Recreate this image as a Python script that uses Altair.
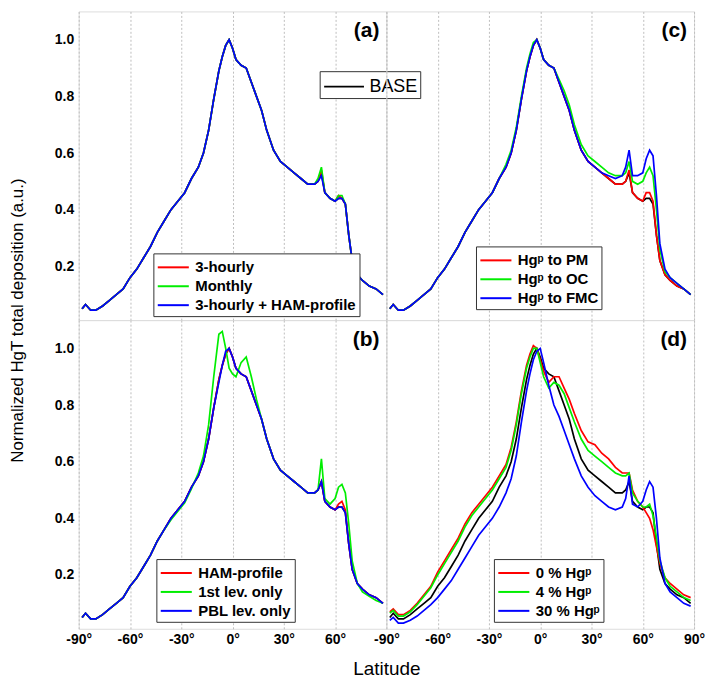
import altair as alt
import pandas as pd

# ---------------- data ----------------
LAT = [-88, -86, -83, -80, -76, -72, -68, -64, -60, -56,
       -52, -48, -44, -40, -36, -32, -28, -24, -20, -17,
       -14, -11, -8, -6, -4, -2, 0, 2, 5, 8,
       11, 14, 17, 20, 24, 28, 32, 36, 40, 44,
       48, 50, 52, 54, 57, 60, 62, 64, 66, 68,
       70, 73, 76, 80, 84, 88]

BASE = [0.050, 0.065, 0.045, 0.045, 0.060, 0.080, 0.100, 0.120, 0.160, 0.190,
        0.230, 0.270, 0.320, 0.360, 0.400, 0.430, 0.460, 0.510, 0.550, 0.600,
        0.680, 0.790, 0.890, 0.940, 0.980, 1.000, 0.970, 0.930, 0.910, 0.900,
        0.850, 0.800, 0.750, 0.680, 0.610, 0.570, 0.550, 0.530, 0.510, 0.490,
        0.490, 0.500, 0.530, 0.460, 0.440, 0.430, 0.440, 0.440, 0.420, 0.310,
        0.220, 0.170, 0.150, 0.130, 0.120, 0.100]

# panel (a)
A_3H = [0.050, 0.065, 0.045, 0.045, 0.060, 0.080, 0.100, 0.120, 0.160, 0.190,
        0.230, 0.270, 0.320, 0.360, 0.400, 0.430, 0.460, 0.510, 0.550, 0.600,
        0.680, 0.790, 0.890, 0.940, 0.980, 1.000, 0.970, 0.930, 0.910, 0.900,
        0.850, 0.800, 0.750, 0.680, 0.610, 0.570, 0.550, 0.530, 0.510, 0.490,
        0.490, 0.500, 0.540, 0.460, 0.440, 0.430, 0.450, 0.440, 0.420, 0.310,
        0.220, 0.170, 0.150, 0.130, 0.120, 0.100]
A_MON = [0.050, 0.065, 0.045, 0.045, 0.060, 0.080, 0.100, 0.120, 0.160, 0.190,
         0.230, 0.270, 0.320, 0.360, 0.400, 0.430, 0.460, 0.510, 0.550, 0.600,
         0.680, 0.790, 0.890, 0.940, 0.980, 1.000, 0.970, 0.930, 0.910, 0.900,
         0.850, 0.800, 0.750, 0.680, 0.610, 0.570, 0.550, 0.530, 0.510, 0.490,
         0.490, 0.510, 0.550, 0.460, 0.440, 0.430, 0.450, 0.450, 0.420, 0.310,
         0.220, 0.170, 0.150, 0.130, 0.120, 0.100]
A_HAM = [0.050, 0.065, 0.045, 0.045, 0.060, 0.080, 0.100, 0.120, 0.160, 0.190,
         0.230, 0.270, 0.320, 0.360, 0.400, 0.430, 0.460, 0.510, 0.550, 0.600,
         0.680, 0.790, 0.890, 0.940, 0.980, 1.000, 0.970, 0.930, 0.910, 0.900,
         0.850, 0.800, 0.750, 0.680, 0.610, 0.570, 0.550, 0.530, 0.510, 0.490,
         0.490, 0.500, 0.520, 0.460, 0.440, 0.430, 0.440, 0.440, 0.420, 0.310,
         0.220, 0.170, 0.150, 0.130, 0.120, 0.100]

# panel (b)
B_HAM = [0.050, 0.065, 0.045, 0.045, 0.060, 0.080, 0.100, 0.120, 0.160, 0.190,
         0.230, 0.270, 0.320, 0.360, 0.400, 0.430, 0.460, 0.510, 0.550, 0.600,
         0.680, 0.790, 0.890, 0.940, 0.980, 1.000, 0.970, 0.930, 0.910, 0.900,
         0.850, 0.800, 0.750, 0.680, 0.610, 0.570, 0.550, 0.530, 0.510, 0.490,
         0.490, 0.500, 0.530, 0.460, 0.440, 0.430, 0.450, 0.460, 0.430, 0.310,
         0.220, 0.170, 0.150, 0.130, 0.120, 0.100]
B_1ST = [0.050, 0.065, 0.045, 0.045, 0.060, 0.080, 0.100, 0.120, 0.160, 0.190,
         0.230, 0.270, 0.320, 0.360, 0.395, 0.425, 0.455, 0.505, 0.560, 0.620,
         0.730, 0.900, 1.050, 1.060, 1.000, 0.930, 0.910, 0.900, 0.950, 0.970,
         0.900, 0.820, 0.750, 0.680, 0.610, 0.570, 0.550, 0.530, 0.510, 0.490,
         0.490, 0.500, 0.610, 0.470, 0.450, 0.470, 0.510, 0.520, 0.490, 0.380,
         0.250, 0.170, 0.140, 0.125, 0.110, 0.100]
B_PBL = [0.050, 0.065, 0.045, 0.045, 0.060, 0.080, 0.100, 0.120, 0.160, 0.190,
         0.230, 0.270, 0.320, 0.360, 0.400, 0.430, 0.460, 0.510, 0.550, 0.600,
         0.680, 0.790, 0.880, 0.940, 0.990, 1.000, 0.970, 0.930, 0.910, 0.900,
         0.850, 0.800, 0.750, 0.680, 0.610, 0.570, 0.550, 0.530, 0.510, 0.490,
         0.490, 0.500, 0.530, 0.460, 0.440, 0.430, 0.440, 0.440, 0.420, 0.310,
         0.220, 0.170, 0.150, 0.130, 0.120, 0.100]

# panel (c)
C_PM = [0.050, 0.065, 0.045, 0.045, 0.060, 0.080, 0.100, 0.120, 0.160, 0.190,
        0.230, 0.270, 0.320, 0.360, 0.400, 0.430, 0.460, 0.510, 0.550, 0.600,
        0.680, 0.790, 0.890, 0.940, 0.980, 1.000, 0.970, 0.930, 0.910, 0.900,
        0.850, 0.800, 0.750, 0.680, 0.610, 0.570, 0.550, 0.530, 0.510, 0.490,
        0.490, 0.500, 0.540, 0.460, 0.440, 0.430, 0.460, 0.460, 0.430, 0.310,
        0.220, 0.170, 0.150, 0.130, 0.120, 0.100]
C_OC = [0.050, 0.065, 0.045, 0.045, 0.060, 0.080, 0.100, 0.120, 0.160, 0.190,
        0.230, 0.270, 0.320, 0.360, 0.400, 0.430, 0.460, 0.510, 0.560, 0.610,
        0.690, 0.800, 0.900, 0.950, 0.990, 1.000, 0.970, 0.930, 0.910, 0.900,
        0.860, 0.820, 0.770, 0.700, 0.630, 0.590, 0.570, 0.550, 0.530, 0.520,
        0.520, 0.530, 0.570, 0.500, 0.490, 0.500, 0.530, 0.550, 0.520, 0.400,
        0.260, 0.180, 0.160, 0.140, 0.120, 0.100]
C_FMC = [0.050, 0.065, 0.045, 0.045, 0.060, 0.080, 0.100, 0.120, 0.160, 0.190,
         0.230, 0.270, 0.320, 0.360, 0.400, 0.430, 0.460, 0.510, 0.550, 0.600,
         0.680, 0.790, 0.890, 0.940, 0.980, 1.000, 0.970, 0.930, 0.910, 0.900,
         0.850, 0.800, 0.750, 0.680, 0.610, 0.570, 0.550, 0.530, 0.520, 0.510,
         0.520, 0.550, 0.610, 0.520, 0.520, 0.530, 0.580, 0.610, 0.590, 0.450,
         0.280, 0.190, 0.160, 0.140, 0.120, 0.100]

# panel (d)
D_0 = [0.070, 0.080, 0.060, 0.060, 0.075, 0.100, 0.130, 0.160, 0.210, 0.250,
       0.290, 0.330, 0.380, 0.420, 0.450, 0.480, 0.510, 0.550, 0.590, 0.650,
       0.740, 0.850, 0.940, 0.980, 1.010, 1.000, 0.960, 0.920, 0.880, 0.900,
       0.900, 0.860, 0.820, 0.770, 0.710, 0.670, 0.660, 0.630, 0.610, 0.580,
       0.560, 0.560, 0.560, 0.500, 0.460, 0.440, 0.420, 0.400, 0.360, 0.300,
       0.240, 0.190, 0.170, 0.150, 0.130, 0.120]
D_4 = [0.065, 0.075, 0.055, 0.055, 0.070, 0.095, 0.125, 0.155, 0.200, 0.240,
       0.280, 0.320, 0.370, 0.410, 0.440, 0.470, 0.500, 0.540, 0.580, 0.640,
       0.730, 0.840, 0.930, 0.970, 1.000, 1.000, 0.950, 0.900, 0.860, 0.880,
       0.870, 0.840, 0.790, 0.740, 0.680, 0.640, 0.620, 0.600, 0.580, 0.560,
       0.550, 0.550, 0.560, 0.490, 0.460, 0.440, 0.440, 0.450, 0.410, 0.330,
       0.250, 0.190, 0.160, 0.140, 0.120, 0.110]
D_30 = [0.040, 0.050, 0.030, 0.030, 0.040, 0.055, 0.075, 0.095, 0.120, 0.150,
        0.180, 0.220, 0.260, 0.300, 0.340, 0.370, 0.400, 0.440, 0.490, 0.540,
        0.620, 0.740, 0.850, 0.910, 0.960, 0.990, 1.000, 0.950, 0.870, 0.800,
        0.760, 0.710, 0.660, 0.610, 0.550, 0.510, 0.480, 0.460, 0.440, 0.430,
        0.440, 0.470, 0.550, 0.450, 0.440, 0.460, 0.500, 0.530, 0.510, 0.400,
        0.260, 0.170, 0.140, 0.120, 0.100, 0.090]

NAMES_A = ["3-hourly", "Monthly", "3-hourly + HAM-profile"]
NAMES_B = ["HAM-profile", "1st lev. only", "PBL lev. only"]
NAMES_C = ["Hgᵖ to PM", "Hgᵖ to OC", "Hgᵖ to FMC"]
NAMES_D = ["0 % Hgᵖ", "4 % Hgᵖ", "30 % Hgᵖ"]
COLORS = ["#ff0000", "#00ee00", "#0000ff"]

X_TICKS = [-90, -60, -30, 0, 30, 60, 90]
Y_TICKS = [0.2, 0.4, 0.6, 0.8, 1.0]

W, H = 309, 310
FONT = "Liberation Sans"
LINE_SYMBOL = "M-1.6,0L1.6,0"


def long_df(names, series):
    rows = []
    for k, (name, vals) in enumerate(zip(names, series)):
        for la, v in zip(LAT, vals):
            rows.append({"lat": la, "val": v, "series": name, "order": k})
    return pd.DataFrame(rows)


def make_panel(names, series, label, lx, ly, bottom, left, x_values=None,
               y_title=False, x_title=False, base_legend=False):
    grid_kw = dict(grid=True, gridDash=[2, 2], gridColor="#bdbdbd", gridWidth=1)
    if bottom:
        x_axis = alt.Axis(values=x_values, labelExpr="datum.value + '°'",
                          labelFont=FONT, labelFontSize=14, labelFontWeight="bold",
                          labelColor="black", labelPadding=4, ticks=False,
                          domain=False, labelFlush=False, labelOverlap=False,
                          title="Latitude" if x_title else None,
                          titleFont=FONT, titleFontSize=19, titleFontWeight="normal",
                          titleX=W, titleY=40, titleBaseline="middle",
                          titleAlign="center", **grid_kw)
    else:
        x_axis = alt.Axis(values=X_TICKS, labels=False, ticks=False, domain=False,
                          title=None, **grid_kw)
    if left:
        y_axis = alt.Axis(values=Y_TICKS, format=".1f", labelFont=FONT,
                          labelFontSize=14, labelFontWeight="bold", labelColor="black",
                          labelPadding=5, ticks=False, domain=False, grid=False,
                          title="Normalized HgT total deposition (a.u.)" if y_title else None,
                          titleFont=FONT, titleFontSize=17, titleFontWeight="normal",
                          titleAngle=-90, titleX=-61, titleY=H,
                          titleBaseline="middle", titleAlign="center")
    else:
        y_axis = None

    xs = alt.X("lat:Q", scale=alt.Scale(domain=[-90, 90], nice=False, zero=False),
               axis=x_axis)
    ys = alt.Y("val:Q", scale=alt.Scale(domain=[0.01, 1.1], nice=False, zero=False),
               axis=y_axis)

    base_df = pd.DataFrame({"lat": LAT, "val": BASE, "series": "BASE"})
    base_chart = alt.Chart(base_df).mark_line(strokeWidth=1.7)
    if base_legend:
        base_layer = base_chart.encode(
            x=xs, y=ys,
            stroke=alt.Stroke("series:N",
                              scale=alt.Scale(domain=["BASE"], range=["black"]),
                              legend=alt.Legend(orient="none", legendX=242, legendY=60,
                                                title=None, labelFont=FONT,
                                                labelFontSize=18, labelColor="black",
                                                symbolType=LINE_SYMBOL, symbolSize=625,
                                                symbolStrokeWidth=1.8,
                                                symbolOffset=9, labelOffset=12,
                                                padding=2, strokeColor="#333",
                                                fillColor="white")))
    else:
        base_layer = base_chart.encode(x=xs, y=ys, color=alt.value("black"))

    df = long_df(names, series)
    lines = alt.Chart(df).mark_line(strokeWidth=1.7).encode(
        x=xs, y=ys,
        color=alt.Color("series:N",
                        scale=alt.Scale(domain=names, range=COLORS),
                        sort=names,
                        legend=alt.Legend(orient="none", legendX=lx, legendY=ly,
                                          title=None, labelFont=FONT, labelFontSize=15,
                                          labelFontWeight="bold", labelColor="black",
                                          symbolType=LINE_SYMBOL, symbolSize=380,
                                          symbolStrokeWidth=2, symbolOffset=6,
                                          labelOffset=11, rowPadding=0, padding=3,
                                          labelLimit=400, strokeColor="#333",
                                          fillColor="white")),
        order=alt.Order("order:Q"),
        detail="series:N",
    )

    text = alt.Chart(pd.DataFrame({"t": [label]})).mark_text(
        align="right", baseline="middle", font=FONT, fontSize=21,
        fontWeight="bold", color="black").encode(
        text="t:N", x=alt.value(W - 7), y=alt.value(20))

    return alt.layer(base_layer, lines, text).properties(width=W, height=H)


pa = make_panel(NAMES_A, [A_3H, A_MON, A_HAM], "(a)", 75, 243,
                bottom=False, left=True, y_title=True, base_legend=True)
pc = make_panel(NAMES_C, [C_PM, C_OC, C_FMC], "(c)", 90, 236,
                bottom=False, left=False)
pb = make_panel(NAMES_B, [B_HAM, B_1ST, B_PBL], "(b)", 78, 240,
                bottom=True, left=True, x_values=[-90, -60, -30, 0, 30, 60],
                x_title=True)
pd_ = make_panel(NAMES_D, [D_0, D_4, D_30], "(d)", 108, 240,
                 bottom=True, left=False, x_values=X_TICKS)

chart = alt.concat(pa, pc, pb, pd_, columns=2, spacing=0, bounds="flush").resolve_scale(
    color="independent", stroke="independent"
).properties(
    padding={"left": 0, "top": 1, "right": 0, "bottom": 0}
).configure_view(
    stroke="#555", strokeWidth=1
).configure(font=FONT)

chart.save("out.html", embed_options={"renderer": "svg", "actions": False})
